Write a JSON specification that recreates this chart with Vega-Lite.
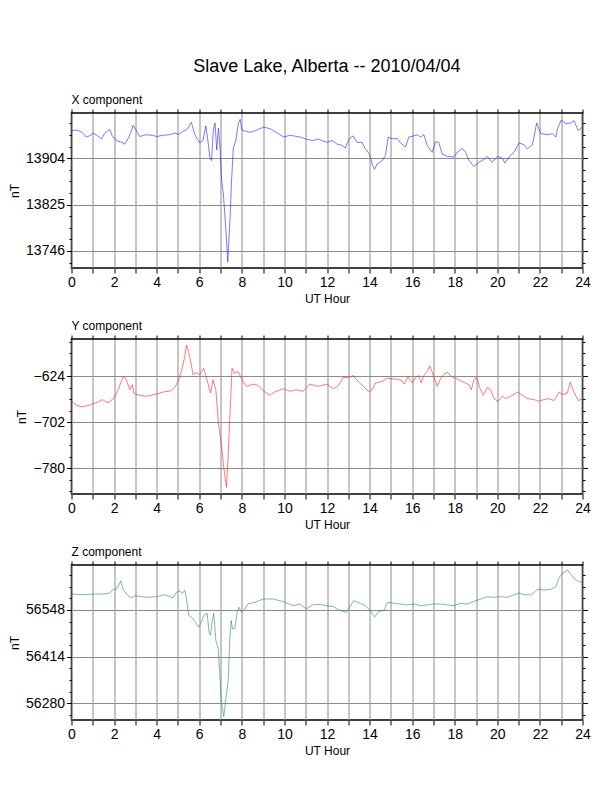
{
  "$schema": "https://vega.github.io/schema/vega-lite/v6.json",
  "background": "white",
  "padding": {"left": 7.5, "top": 58, "right": 20, "bottom": 5},
  "title": {"text": "Slave Lake, Alberta -- 2010/04/04", "fontSize": 18, "fontWeight": "normal", "anchor": "middle", "dx": 27.5, "offset": 16.5},
  "datasets": {
    "x": [
      {"hour": 0, "nT": 13951}, {"hour": 0.25, "nT": 13952}, {"hour": 0.5, "nT": 13948}, {"hour": 0.7, "nT": 13940}, {"hour": 0.9, "nT": 13943},
      {"hour": 1.0, "nT": 13947}, {"hour": 1.2, "nT": 13943}, {"hour": 1.4, "nT": 13937}, {"hour": 1.6, "nT": 13948}, {"hour": 1.8, "nT": 13953},
      {"hour": 1.9, "nT": 13943}, {"hour": 2.1, "nT": 13934}, {"hour": 2.3, "nT": 13932}, {"hour": 2.5, "nT": 13928}, {"hour": 2.7, "nT": 13940},
      {"hour": 2.9, "nT": 13960}, {"hour": 3.0, "nT": 13954}, {"hour": 3.2, "nT": 13941}, {"hour": 3.5, "nT": 13944}, {"hour": 3.8, "nT": 13943},
      {"hour": 4.0, "nT": 13941}, {"hour": 4.3, "nT": 13943}, {"hour": 4.6, "nT": 13944}, {"hour": 4.9, "nT": 13947}, {"hour": 5.0, "nT": 13944},
      {"hour": 5.24, "nT": 13950}, {"hour": 5.4, "nT": 13952}, {"hour": 5.63, "nT": 13965}, {"hour": 5.79, "nT": 13944}, {"hour": 6.03, "nT": 13930},
      {"hour": 6.18, "nT": 13935}, {"hour": 6.31, "nT": 13959}, {"hour": 6.42, "nT": 13930}, {"hour": 6.5, "nT": 13904}, {"hour": 6.58, "nT": 13900},
      {"hour": 6.66, "nT": 13952}, {"hour": 6.74, "nT": 13964}, {"hour": 6.82, "nT": 13918}, {"hour": 6.9, "nT": 13955}, {"hour": 6.97, "nT": 13924},
      {"hour": 7.05, "nT": 13867}, {"hour": 7.13, "nT": 13844}, {"hour": 7.21, "nT": 13804}, {"hour": 7.29, "nT": 13759}, {"hour": 7.34, "nT": 13727},
      {"hour": 7.39, "nT": 13764}, {"hour": 7.45, "nT": 13804}, {"hour": 7.51, "nT": 13861}, {"hour": 7.6, "nT": 13921}, {"hour": 7.72, "nT": 13935},
      {"hour": 7.84, "nT": 13964}, {"hour": 7.92, "nT": 13970}, {"hour": 8.0, "nT": 13952}, {"hour": 8.16, "nT": 13950}, {"hour": 8.4, "nT": 13948},
      {"hour": 8.71, "nT": 13952}, {"hour": 9.03, "nT": 13957}, {"hour": 9.34, "nT": 13954}, {"hour": 9.66, "nT": 13947}, {"hour": 9.96, "nT": 13940},
      {"hour": 10.27, "nT": 13943}, {"hour": 10.74, "nT": 13940}, {"hour": 11.05, "nT": 13936}, {"hour": 11.37, "nT": 13934}, {"hour": 11.53, "nT": 13937},
      {"hour": 12.0, "nT": 13931}, {"hour": 12.24, "nT": 13934}, {"hour": 12.47, "nT": 13928}, {"hour": 12.7, "nT": 13926}, {"hour": 12.86, "nT": 13921},
      {"hour": 13.02, "nT": 13936}, {"hour": 13.22, "nT": 13942}, {"hour": 13.41, "nT": 13931}, {"hour": 13.65, "nT": 13931}, {"hour": 13.8, "nT": 13920},
      {"hour": 14.0, "nT": 13911}, {"hour": 14.12, "nT": 13894}, {"hour": 14.23, "nT": 13885}, {"hour": 14.35, "nT": 13894}, {"hour": 14.6, "nT": 13900},
      {"hour": 14.75, "nT": 13909}, {"hour": 14.87, "nT": 13940}, {"hour": 15.06, "nT": 13937}, {"hour": 15.29, "nT": 13938}, {"hour": 15.45, "nT": 13930},
      {"hour": 15.69, "nT": 13923}, {"hour": 15.84, "nT": 13940}, {"hour": 16.08, "nT": 13942}, {"hour": 16.24, "nT": 13944}, {"hour": 16.39, "nT": 13940},
      {"hour": 16.55, "nT": 13944}, {"hour": 16.7, "nT": 13926}, {"hour": 16.94, "nT": 13914}, {"hour": 17.1, "nT": 13932}, {"hour": 17.25, "nT": 13931},
      {"hour": 17.41, "nT": 13911}, {"hour": 17.65, "nT": 13907}, {"hour": 17.96, "nT": 13906}, {"hour": 18.12, "nT": 13914}, {"hour": 18.35, "nT": 13921},
      {"hour": 18.51, "nT": 13914}, {"hour": 18.67, "nT": 13900}, {"hour": 18.9, "nT": 13890}, {"hour": 19.14, "nT": 13897}, {"hour": 19.37, "nT": 13902},
      {"hour": 19.53, "nT": 13907}, {"hour": 19.76, "nT": 13897}, {"hour": 20.0, "nT": 13907}, {"hour": 20.24, "nT": 13904}, {"hour": 20.35, "nT": 13896},
      {"hour": 20.55, "nT": 13906}, {"hour": 20.78, "nT": 13914}, {"hour": 21.02, "nT": 13930}, {"hour": 21.25, "nT": 13927}, {"hour": 21.41, "nT": 13920},
      {"hour": 21.65, "nT": 13927}, {"hour": 21.85, "nT": 13964}, {"hour": 22.04, "nT": 13946}, {"hour": 22.35, "nT": 13944}, {"hour": 22.59, "nT": 13946},
      {"hour": 22.75, "nT": 13940}, {"hour": 22.82, "nT": 13954}, {"hour": 23.0, "nT": 13969}, {"hour": 23.22, "nT": 13963}, {"hour": 23.45, "nT": 13964},
      {"hour": 23.6, "nT": 13968}, {"hour": 23.8, "nT": 13951}, {"hour": 24.0, "nT": 13957}
    ],
    "y": [
      {"hour": 0, "nT": -666.7}, {"hour": 0.23, "nT": -673.4}, {"hour": 0.47, "nT": -676.2}, {"hour": 0.78, "nT": -674}, {"hour": 1.0, "nT": -671.1},
      {"hour": 1.25, "nT": -667.8}, {"hour": 1.45, "nT": -663.8}, {"hour": 1.72, "nT": -669.5}, {"hour": 2.0, "nT": -661}, {"hour": 2.19, "nT": -647},
      {"hour": 2.43, "nT": -624.6}, {"hour": 2.55, "nT": -627.4}, {"hour": 2.74, "nT": -647}, {"hour": 2.85, "nT": -638.6}, {"hour": 2.93, "nT": -652.6},
      {"hour": 3.05, "nT": -655.4}, {"hour": 3.52, "nT": -658.2}, {"hour": 3.99, "nT": -654.3}, {"hour": 4.3, "nT": -650.9}, {"hour": 4.54, "nT": -649.8},
      {"hour": 4.69, "nT": -648.7}, {"hour": 4.85, "nT": -643.1}, {"hour": 5.0, "nT": -633}, {"hour": 5.16, "nT": -616.1}, {"hour": 5.32, "nT": -590.9},
      {"hour": 5.4, "nT": -571.2}, {"hour": 5.5, "nT": -582.5}, {"hour": 5.63, "nT": -604.9}, {"hour": 5.71, "nT": -621.8}, {"hour": 5.87, "nT": -617.8},
      {"hour": 6.02, "nT": -621.8}, {"hour": 6.21, "nT": -610.5}, {"hour": 6.34, "nT": -627.4}, {"hour": 6.53, "nT": -652.6}, {"hour": 6.65, "nT": -630.2},
      {"hour": 6.78, "nT": -647}, {"hour": 6.89, "nT": -700.3}, {"hour": 7.04, "nT": -739.6}, {"hour": 7.15, "nT": -778.9}, {"hour": 7.28, "nT": -812.6},
      {"hour": 7.37, "nT": -750.8}, {"hour": 7.43, "nT": -700.3}, {"hour": 7.54, "nT": -610.5}, {"hour": 7.67, "nT": -619}, {"hour": 7.82, "nT": -616.1},
      {"hour": 7.9, "nT": -621.8}, {"hour": 8.06, "nT": -633}, {"hour": 8.22, "nT": -641.4}, {"hour": 8.53, "nT": -637.5}, {"hour": 8.76, "nT": -639.7},
      {"hour": 9.0, "nT": -648.7}, {"hour": 9.31, "nT": -656.5}, {"hour": 9.55, "nT": -650.9}, {"hour": 9.94, "nT": -645.3}, {"hour": 10.25, "nT": -649.8},
      {"hour": 10.56, "nT": -647}, {"hour": 10.88, "nT": -649.8}, {"hour": 11.19, "nT": -637.5}, {"hour": 11.6, "nT": -641.4}, {"hour": 12.0, "nT": -637.5},
      {"hour": 12.31, "nT": -645.3}, {"hour": 12.55, "nT": -639.7}, {"hour": 12.75, "nT": -626.2}, {"hour": 13.02, "nT": -626.2}, {"hour": 13.22, "nT": -622.9},
      {"hour": 13.49, "nT": -634.1}, {"hour": 13.8, "nT": -644.2}, {"hour": 13.96, "nT": -650.9}, {"hour": 14.12, "nT": -647}, {"hour": 14.27, "nT": -635.8},
      {"hour": 14.59, "nT": -633}, {"hour": 14.82, "nT": -627.4}, {"hour": 15.06, "nT": -628.5}, {"hour": 15.29, "nT": -629.1}, {"hour": 15.53, "nT": -631.9},
      {"hour": 15.64, "nT": -637.5}, {"hour": 15.8, "nT": -624.6}, {"hour": 16.0, "nT": -635.8}, {"hour": 16.16, "nT": -626.2}, {"hour": 16.31, "nT": -622.9},
      {"hour": 16.42, "nT": -635.8}, {"hour": 16.58, "nT": -620.6}, {"hour": 16.71, "nT": -616.1}, {"hour": 16.83, "nT": -606.6}, {"hour": 16.99, "nT": -621.8},
      {"hour": 17.18, "nT": -641.4}, {"hour": 17.33, "nT": -628.5}, {"hour": 17.51, "nT": -620.6}, {"hour": 17.65, "nT": -617.3}, {"hour": 17.84, "nT": -624.6},
      {"hour": 18.04, "nT": -627.4}, {"hour": 18.27, "nT": -631.9}, {"hour": 18.51, "nT": -635.8}, {"hour": 18.67, "nT": -638.6}, {"hour": 18.78, "nT": -647},
      {"hour": 18.9, "nT": -630.2}, {"hour": 19.03, "nT": -626.2}, {"hour": 19.18, "nT": -644.2}, {"hour": 19.34, "nT": -656.5}, {"hour": 19.53, "nT": -643.1},
      {"hour": 19.69, "nT": -647}, {"hour": 19.84, "nT": -662.2}, {"hour": 20.03, "nT": -666.7}, {"hour": 20.24, "nT": -658.2}, {"hour": 20.39, "nT": -662.2},
      {"hour": 20.63, "nT": -658.2}, {"hour": 20.94, "nT": -650.9}, {"hour": 21.18, "nT": -656.5}, {"hour": 21.41, "nT": -662.2}, {"hour": 21.73, "nT": -663.8},
      {"hour": 21.91, "nT": -666.7}, {"hour": 22.2, "nT": -663.8}, {"hour": 22.43, "nT": -662.2}, {"hour": 22.67, "nT": -665.5}, {"hour": 22.9, "nT": -650.9},
      {"hour": 23.06, "nT": -655.4}, {"hour": 23.29, "nT": -652.6}, {"hour": 23.42, "nT": -634.1}, {"hour": 23.58, "nT": -649.8}, {"hour": 23.8, "nT": -665.5},
      {"hour": 24.0, "nT": -662.2}
    ],
    "z": [
      {"hour": 0, "nT": 56593.6}, {"hour": 0.55, "nT": 56591.7}, {"hour": 1.0, "nT": 56593.6}, {"hour": 1.49, "nT": 56593.6}, {"hour": 1.8, "nT": 56596.5},
      {"hour": 1.96, "nT": 56607.9}, {"hour": 2.11, "nT": 56607.9}, {"hour": 2.24, "nT": 56622.1}, {"hour": 2.32, "nT": 56631.6}, {"hour": 2.43, "nT": 56605},
      {"hour": 2.66, "nT": 56588.9}, {"hour": 2.82, "nT": 56582.2}, {"hour": 2.97, "nT": 56588.9}, {"hour": 3.52, "nT": 56584.1}, {"hour": 3.99, "nT": 56586},
      {"hour": 4.38, "nT": 56591.7}, {"hour": 4.77, "nT": 56582.2}, {"hour": 4.93, "nT": 56598.4}, {"hour": 5.09, "nT": 56603.1}, {"hour": 5.21, "nT": 56595.5},
      {"hour": 5.32, "nT": 56605}, {"hour": 5.4, "nT": 56579.4}, {"hour": 5.51, "nT": 56531.8}, {"hour": 5.71, "nT": 56522.3}, {"hour": 5.87, "nT": 56508.1},
      {"hour": 5.98, "nT": 56498.6}, {"hour": 6.1, "nT": 56512.8}, {"hour": 6.21, "nT": 56531.8}, {"hour": 6.37, "nT": 56538.5}, {"hour": 6.46, "nT": 56484.3},
      {"hour": 6.53, "nT": 56474.8}, {"hour": 6.59, "nT": 56508.1}, {"hour": 6.68, "nT": 56538.5}, {"hour": 6.78, "nT": 56460.6}, {"hour": 6.89, "nT": 56436.8},
      {"hour": 6.96, "nT": 56365.5}, {"hour": 7.04, "nT": 56284.7}, {"hour": 7.15, "nT": 56242}, {"hour": 7.28, "nT": 56308.5}, {"hour": 7.36, "nT": 56346.5},
      {"hour": 7.43, "nT": 56460.6}, {"hour": 7.5, "nT": 56517.6}, {"hour": 7.56, "nT": 56493.8}, {"hour": 7.67, "nT": 56493.8}, {"hour": 7.78, "nT": 56541.3},
      {"hour": 7.87, "nT": 56555.6}, {"hour": 7.98, "nT": 56541.3}, {"hour": 8.14, "nT": 56550.9}, {"hour": 8.29, "nT": 56565.1}, {"hour": 8.61, "nT": 56569.9},
      {"hour": 9.0, "nT": 56579.4}, {"hour": 9.47, "nT": 56579.4}, {"hour": 9.94, "nT": 56571.8}, {"hour": 10.41, "nT": 56560.4}, {"hour": 10.72, "nT": 56565.1},
      {"hour": 11.03, "nT": 56550.9}, {"hour": 11.35, "nT": 56563.2}, {"hour": 11.69, "nT": 56563.2}, {"hour": 12.0, "nT": 56560.4}, {"hour": 12.31, "nT": 56557.5},
      {"hour": 12.63, "nT": 56546.1}, {"hour": 12.91, "nT": 56541.3}, {"hour": 13.1, "nT": 56560.4}, {"hour": 13.25, "nT": 56574.6}, {"hour": 13.57, "nT": 56567},
      {"hour": 13.8, "nT": 56560.4}, {"hour": 14.04, "nT": 56546.1}, {"hour": 14.23, "nT": 56527.1}, {"hour": 14.43, "nT": 56544.2}, {"hour": 14.67, "nT": 56546.1},
      {"hour": 14.85, "nT": 56569.9}, {"hour": 15.14, "nT": 56567}, {"hour": 15.45, "nT": 56565.1}, {"hour": 15.76, "nT": 56562.3}, {"hour": 16.08, "nT": 56565.1},
      {"hour": 16.39, "nT": 56560.4}, {"hour": 16.71, "nT": 56562.3}, {"hour": 17.02, "nT": 56565.1}, {"hour": 17.33, "nT": 56565.1}, {"hour": 17.65, "nT": 56562.3},
      {"hour": 17.96, "nT": 56560.4}, {"hour": 18.27, "nT": 56567}, {"hour": 18.59, "nT": 56565.1}, {"hour": 18.9, "nT": 56572.7}, {"hour": 19.22, "nT": 56579.4},
      {"hour": 19.53, "nT": 56586}, {"hour": 19.84, "nT": 56584.1}, {"hour": 20.16, "nT": 56586}, {"hour": 20.47, "nT": 56584.1}, {"hour": 20.78, "nT": 56591.7},
      {"hour": 21.02, "nT": 56596.5}, {"hour": 21.25, "nT": 56591.7}, {"hour": 21.57, "nT": 56591.7}, {"hour": 21.73, "nT": 56598.4}, {"hour": 21.91, "nT": 56607.9},
      {"hour": 22.2, "nT": 56605}, {"hour": 22.51, "nT": 56606.9}, {"hour": 22.75, "nT": 56614.5}, {"hour": 22.9, "nT": 56641.1}, {"hour": 23.06, "nT": 56652.5},
      {"hour": 23.29, "nT": 56662}, {"hour": 23.45, "nT": 56650.6}, {"hour": 23.64, "nT": 56636.4}, {"hour": 23.84, "nT": 56628.9}, {"hour": 24.0, "nT": 56628.9}
    ]
  },
  "spacing": 71,
  "bounds": "flush",
  "vconcat": [
    {
      "title": {"text": "X component", "frame": "group"},
      "width": 511,
      "height": 155,
      "data": {"name": "x"},
      "layer": [
        {
          "mark": {"type": "line", "color": "#2020ff", "strokeWidth": 0.6},
          "encoding": {
            "x": {"field": "hour", "type": "quantitative", "scale": {"domain": [0, 24], "nice": false},
              "axis": {"title": "UT Hour", "values": [0,1,2,3,4,5,6,7,8,9,10,11,12,13,14,15,16,17,18,19,20,21,22,23,24], "labelExpr": "datum.value % 2 === 0 ? datum.label : ''"}},
            "y": {"field": "nT", "type": "quantitative", "scale": {"domain": [13717, 13981], "nice": false, "zero": false},
              "axis": {"title": "nT", "format": "d",
                "values": [13726.25, 13746, 13765.75, 13785.5, 13805.25, 13825, 13844.75, 13864.5, 13884.25, 13904, 13923.75, 13943.5, 13963.25],
                "labelExpr": "indexof([13746, 13825, 13904], datum.value) >= 0 ? datum.label : ''",
                "tickSize": {"condition": {"test": "indexof([13746, 13825, 13904], datum.value) >= 0", "value": 5}, "value": 2.5},
                "gridOpacity": {"condition": {"test": "indexof([13746, 13825, 13904], datum.value) >= 0", "value": 1}, "value": 0}}}
          }
        },
        {
          "mark": {"type": "line", "opacity": 0},
          "encoding": {
            "x": {"field": "hour", "type": "quantitative",
              "axis": {"orient": "top", "title": null, "labels": false, "grid": false, "tickSize": 4, "values": [0,1,2,3,4,5,6,7,8,9,10,11,12,13,14,15,16,17,18,19,20,21,22,23,24]}},
            "y": {"field": "nT", "type": "quantitative",
              "axis": {"orient": "right", "title": null, "labels": false, "grid": false,
                "values": [13726.25, 13746, 13765.75, 13785.5, 13805.25, 13825, 13844.75, 13864.5, 13884.25, 13904, 13923.75, 13943.5, 13963.25],
                "tickSize": {"condition": {"test": "indexof([13746, 13825, 13904], datum.value) >= 0", "value": 5}, "value": 2.5}}}
          }
        }
      ],
      "resolve": {"axis": {"x": "independent", "y": "independent"}}
    },
    {
      "title": {"text": "Y component", "frame": "group"},
      "width": 511,
      "height": 155,
      "data": {"name": "y"},
      "layer": [
        {
          "mark": {"type": "line", "color": "#ff2020", "strokeWidth": 0.6},
          "encoding": {
            "x": {"field": "hour", "type": "quantitative", "scale": {"domain": [0, 24], "nice": false},
              "axis": {"title": "UT Hour", "values": [0,1,2,3,4,5,6,7,8,9,10,11,12,13,14,15,16,17,18,19,20,21,22,23,24], "labelExpr": "datum.value % 2 === 0 ? datum.label : ''"}},
            "y": {"field": "nT", "type": "quantitative", "scale": {"domain": [-824, -561], "nice": false, "zero": false},
              "axis": {"title": "nT", "format": "d",
                "values": [-819, -799.5, -780, -760.5, -741, -721.5, -702, -682.5, -663, -643.5, -624, -604.5, -585, -565.5],
                "labelExpr": "indexof([-780, -702, -624], datum.value) >= 0 ? datum.label : ''",
                "tickSize": {"condition": {"test": "indexof([-780, -702, -624], datum.value) >= 0", "value": 5}, "value": 2.5},
                "gridOpacity": {"condition": {"test": "indexof([-780, -702, -624], datum.value) >= 0", "value": 1}, "value": 0}}}
          }
        },
        {
          "mark": {"type": "line", "opacity": 0},
          "encoding": {
            "x": {"field": "hour", "type": "quantitative",
              "axis": {"orient": "top", "title": null, "labels": false, "grid": false, "tickSize": 4, "values": [0,1,2,3,4,5,6,7,8,9,10,11,12,13,14,15,16,17,18,19,20,21,22,23,24]}},
            "y": {"field": "nT", "type": "quantitative",
              "axis": {"orient": "right", "title": null, "labels": false, "grid": false,
                "values": [-819, -799.5, -780, -760.5, -741, -721.5, -702, -682.5, -663, -643.5, -624, -604.5, -585, -565.5],
                "tickSize": {"condition": {"test": "indexof([-780, -702, -624], datum.value) >= 0", "value": 5}, "value": 2.5}}}
          }
        }
      ],
      "resolve": {"axis": {"x": "independent", "y": "independent"}}
    },
    {
      "title": {"text": "Z component", "frame": "group"},
      "width": 511,
      "height": 155,
      "data": {"name": "z"},
      "layer": [
        {
          "mark": {"type": "line", "color": "#2e8b57", "strokeWidth": 0.6},
          "encoding": {
            "x": {"field": "hour", "type": "quantitative", "scale": {"domain": [0, 24], "nice": false},
              "axis": {"title": "UT Hour", "values": [0,1,2,3,4,5,6,7,8,9,10,11,12,13,14,15,16,17,18,19,20,21,22,23,24], "labelExpr": "datum.value % 2 === 0 ? datum.label : ''"}},
            "y": {"field": "nT", "type": "quantitative", "scale": {"domain": [56232, 56677], "nice": false, "zero": false},
              "axis": {"title": "nT", "format": "d",
                "values": [56246.5, 56280, 56313.5, 56347, 56380.5, 56414, 56447.5, 56481, 56514.5, 56548, 56581.5, 56615, 56648.5],
                "labelExpr": "indexof([56280, 56414, 56548], datum.value) >= 0 ? datum.label : ''",
                "tickSize": {"condition": {"test": "indexof([56280, 56414, 56548], datum.value) >= 0", "value": 5}, "value": 2.5},
                "gridOpacity": {"condition": {"test": "indexof([56280, 56414, 56548], datum.value) >= 0", "value": 1}, "value": 0}}}
          }
        },
        {
          "mark": {"type": "line", "opacity": 0},
          "encoding": {
            "x": {"field": "hour", "type": "quantitative",
              "axis": {"orient": "top", "title": null, "labels": false, "grid": false, "tickSize": 4, "values": [0,1,2,3,4,5,6,7,8,9,10,11,12,13,14,15,16,17,18,19,20,21,22,23,24]}},
            "y": {"field": "nT", "type": "quantitative",
              "axis": {"orient": "right", "title": null, "labels": false, "grid": false,
                "values": [56246.5, 56280, 56313.5, 56347, 56380.5, 56414, 56447.5, 56481, 56514.5, 56548, 56581.5, 56615, 56648.5],
                "tickSize": {"condition": {"test": "indexof([56280, 56414, 56548], datum.value) >= 0", "value": 5}, "value": 2.5}}}
          }
        }
      ],
      "resolve": {"axis": {"x": "independent", "y": "independent"}}
    }
  ],
  "config": {
    "font": "Liberation Sans",
    "view": {"stroke": "black", "strokeWidth": 1.5},
    "title": {"anchor": "start", "fontSize": 12, "fontWeight": "normal", "offset": 2, "color": "black"},
    "axis": {
      "domain": false,
      "tickColor": "black",
      "labelColor": "black",
      "titleColor": "black",
      "labelFontSize": 14,
      "titleFontSize": 12,
      "titleFontWeight": "normal",
      "labelOverlap": false,
      "labelFlush": false,
      "labelBound": false,
      "gridColor": "#8c8c8c",
      "gridWidth": 1,
      "labelPadding": 2,
      "titlePadding": 4
    }
  }
}
